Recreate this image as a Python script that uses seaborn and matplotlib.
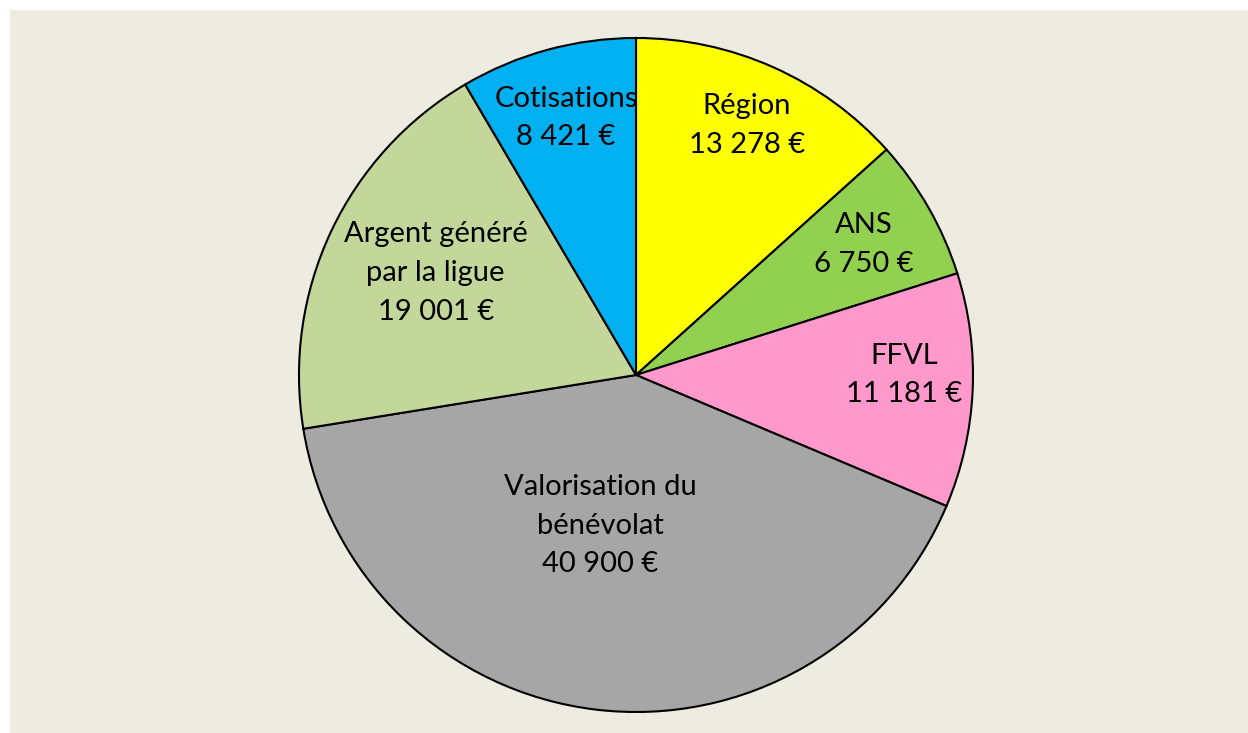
import numpy as np
import matplotlib.pyplot as plt
import seaborn as sns
from matplotlib.patches import Rectangle

# données
categories = ["Région", "ANS", "FFVL", "Valorisation du\nbénévolat",
              "Argent généré\npar la ligue", "Cotisations"]
montants = [13278, 6750, 11181, 40900, 19001, 8421]
couleurs = ["#FFFF00", "#92D050", "#FF99CC", "#A6A6A6", "#C4D79B", "#00B0F0"]

# placement du texte : distance au centre (fraction du rayon) et décalage d'angle
dist_labels = [0.81, 0.78, 0.795, 0.46, 0.667, 0.79]
decal_angle = [0, 0, 2.7, -6.6, -1.8, 0]

sns.set_theme(style="white")
plt.rcParams['font.family'] = ['Lato', 'DejaVu Sans']

W, H = 1248, 733
fig = plt.figure(figsize=(W / 100, H / 100), dpi=100, facecolor="white")
fig.patches.append(Rectangle((10 / W, 0), 1 - 10 / W, 1 - 10 / H,
                             transform=fig.transFigure, facecolor="#EEECE1",
                             edgecolor="none", zorder=-10))

cx, cy, r = 636, H - 375, 337
ax = fig.add_axes([(cx - r) / W, (cy - r) / H, 2 * r / W, 2 * r / H])
ax.set_facecolor("none")
ax.set_zorder(5)

wedges, _ = ax.pie(montants, colors=couleurs, startangle=90, counterclock=False,
                   radius=1, wedgeprops=dict(edgecolor="black", linewidth=1.5, clip_on=False))
ax.set_xlim(-1, 1)
ax.set_ylim(-1, 1)
ax.set_aspect("equal")
ax.axis("off")

def fmt(v):
    return f"{v:,}".replace(",", " ") + " €"

for w, cat, val, d, da in zip(wedges, categories, montants, dist_labels, decal_angle):
    ang = np.deg2rad((w.theta1 + w.theta2) / 2 + da)
    ax.text(d * np.cos(ang), d * np.sin(ang), cat + "\n" + fmt(val),
            ha="center", va="center", fontsize=21, linespacing=1.6, color="black")

fig.savefig("out.png", dpi=100, facecolor=fig.get_facecolor())
